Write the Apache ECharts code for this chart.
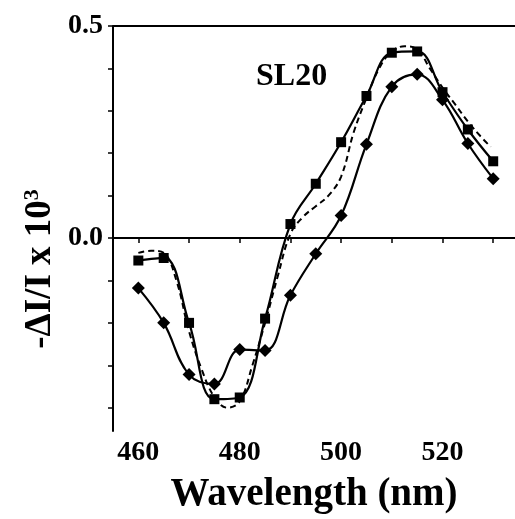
<!DOCTYPE html>
<html>
<head>
<meta charset="utf-8">
<script src="https://cdn.jsdelivr.net/npm/echarts@6/dist/echarts.min.js"></script>
<style>
  html, body { margin: 0; padding: 0; background: #fff; }
  #chart { width: 515px; height: 519px; }
</style>
</head>
<body>
<div id="chart"></div>
<script>
// wavelengths of the measured points (nm)
var waves = [460, 465, 470, 475, 480, 485, 490, 495, 500, 505, 510, 515, 520, 525, 530];
// squares
var sqVals = [-0.053, -0.047, -0.20, -0.38, -0.376, -0.19, 0.033, 0.128, 0.226, 0.335, 0.437, 0.44, 0.344, 0.256, 0.181];
// diamonds
var dmVals = [-0.118, -0.20, -0.322, -0.344, -0.263, -0.265, -0.135, -0.037, 0.053, 0.221, 0.357, 0.386, 0.326, 0.223, 0.14];
// dashed fit curve
var fitWaves = [460, 462.5, 465, 467.5, 470, 472.5, 475, 477.5, 480, 482.5, 485, 487.5, 490, 492.5, 495, 497.5, 500, 502.5, 505, 507.5, 510, 512.5, 515, 517.5, 520, 522.5, 525, 527.5, 529.5];
var fitVals = [-0.035, -0.03, -0.035, -0.1, -0.22, -0.31, -0.375, -0.4, -0.385, -0.3, -0.2, -0.09, 0.01, 0.05, 0.075, 0.1, 0.145, 0.25, 0.33, 0.4, 0.44, 0.452, 0.445, 0.4, 0.355, 0.315, 0.275, 0.24, 0.215];

var xTicks = [460, 470, 480, 490, 500, 510, 520, 530];
var xLabels = [460, 480, 500, 520];
var yTicks = [-0.4, -0.3, -0.2, -0.1, 0, 0.1, 0.2, 0.3, 0.4, 0.5];
var yLabels = [0, 0.5];

function pairs(xs, ys) {
    var out = [];
    for (var i = 0; i < xs.length; i++) {
        out.push([xs[i], ys[i]]);
    }
    return out;
}

var font = '"Liberation Serif", "DejaVu Serif", serif';

var myChart = echarts.init(document.getElementById('chart'));
myChart.setOption({
    backgroundColor: '#fff',
    animation: false,
    grid: { left: 113, right: 0, top: 26, bottom: 83 },
    graphic: [
        {
            type: 'text',
            left: 256,
            top: 61,
            style: { text: 'SL20', font: 'bold 32px ' + font, fill: '#000' }
        },
        {
            // y axis title, rotated
            type: 'text',
            x: 40,
            y: 269,
            rotation: Math.PI / 2,
            style: {
                text: '{m|-ΔI/I x 10}{s|3}',
                align: 'center',
                verticalAlign: 'middle',
                rich: {
                    m: { font: 'bold 37px ' + font, fill: '#000' },
                    s: { font: 'bold 22px ' + font, fill: '#000', verticalAlign: 'top', padding: [0, 0, 14, 0] }
                }
            }
        }
    ],
    xAxis: {
        type: 'value',
        min: 455,
        max: 534.3,
        name: 'Wavelength (nm)',
        nameLocation: 'middle',
        nameGap: 44,
        nameTextStyle: { fontFamily: font, fontWeight: 'bold', fontSize: 39, color: '#000' },
        axisLine: { lineStyle: { color: '#000', width: 2 } },
        axisTick: { customValues: xTicks, length: 5, lineStyle: { color: '#000', width: 1.5 } },
        axisLabel: {
            customValues: xLabels,
            margin: 8,
            fontFamily: font, fontWeight: 'bold', fontSize: 28, color: '#000'
        },
        splitLine: { show: false }
    },
    yAxis: {
        type: 'value',
        min: -0.455,
        max: 0.5,
        axisLine: { lineStyle: { color: '#000', width: 2 } },
        axisTick: { customValues: yTicks, length: 5, lineStyle: { color: '#000', width: 1.5 } },
        axisLabel: {
            customValues: yLabels,
            margin: 10,
            padding: [0, 0, 10, 0],
            formatter: function (v) { return v.toFixed(1); },
            fontFamily: font, fontWeight: 'bold', fontSize: 28, color: '#000'
        },
        splitLine: { show: false }
    },
    series: [
        {
            name: 'fit',
            type: 'line',
            data: pairs(fitWaves, fitVals),
            smooth: 0.4,
            showSymbol: false,
            lineStyle: { color: '#000', width: 2, type: [6, 4] },
            markLine: {
                silent: true,
                symbol: 'none',
                label: { show: false },
                lineStyle: { color: '#000', width: 2, type: 'solid' },
                data: [{ yAxis: 0 }, { yAxis: 0.5 }]
            }
        },
        {
            name: 'squares',
            type: 'line',
            data: pairs(waves, sqVals),
            smooth: 0.4,
            symbol: 'rect',
            symbolSize: 10,
            itemStyle: { color: '#000' },
            lineStyle: { color: '#000', width: 2.2 }
        },
        {
            name: 'diamonds',
            type: 'line',
            data: pairs(waves, dmVals),
            smooth: 0.4,
            symbol: 'diamond',
            symbolSize: 13,
            itemStyle: { color: '#000' },
            lineStyle: { color: '#000', width: 2.2 }
        }
    ]
});
</script>
</body>
</html>
